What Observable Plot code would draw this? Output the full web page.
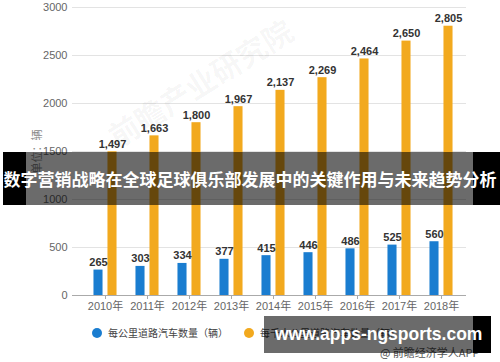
<!DOCTYPE html>
<html><head><meta charset="utf-8">
<script src="https://cdn.jsdelivr.net/npm/d3@7"></script>
<script src="https://cdn.jsdelivr.net/npm/@observablehq/plot@0.6"></script>
<style>
body{margin:0;background:#fff;}
#wrap{position:relative;width:500px;height:362px;overflow:hidden;background:#fff;font-family:"Liberation Sans Narrow","Liberation Sans","Noto Sans CJK SC",sans-serif;}
#chart svg{display:block;}
#legend{position:relative;height:30px;font-family:"Noto Sans CJK SC",sans-serif;font-size:10px;color:#444;}
.lg{position:absolute;top:8px;display:flex;align-items:center;white-space:nowrap;line-height:14px;}
.lg i{display:inline-block;width:10px;height:10px;border-radius:50%;margin-right:6px;}
.abs{position:absolute;}
#bannerText{position:absolute;left:0;width:500px;top:152px;height:53px;line-height:53px;text-align:center;color:#fff;font-weight:bold;font-size:17px;font-family:"Noto Sans CJK SC",sans-serif;white-space:nowrap;}
#wmText{position:absolute;left:275px;top:316px;height:37px;line-height:36px;color:#fff;font-weight:bold;font-size:17.5px;font-family:"Liberation Sans",sans-serif;white-space:nowrap;}
#source{position:absolute;left:380px;top:344px;font-size:11px;color:#555;font-family:"Noto Sans CJK SC",sans-serif;white-space:nowrap;line-height:16px;}
#faint{position:absolute;left:95px;top:60px;font-size:30px;color:rgba(0,0,0,0.045);font-weight:bold;transform:rotate(-32deg);font-family:"Noto Sans CJK SC",sans-serif;white-space:nowrap;}
</style></head><body>
<div id="wrap">
  <div id="chart"></div>
  <div id="legend"></div>
  <div id="faint">前瞻产业研究院</div>
  <div class="abs" style="left:3px;top:152px;width:23px;height:53px;background:#000"></div>
  <div class="abs" style="left:26px;top:152px;width:447px;height:53px;background:rgba(0,0,0,0.58)"></div>
  <div class="abs" style="left:473px;top:152px;width:27px;height:53px;background:#000"></div>
  <div id="bannerText">数字营销战略在全球足球俱乐部发展中的关键作用与未来趋势分析</div>
  <div id="source">@ 前瞻经济学人APP</div>
  <div class="abs" style="left:264px;top:316px;width:209px;height:37px;background:rgba(0,0,0,0.58)"></div>
  <div class="abs" style="left:473px;top:316px;width:18px;height:37px;background:#000"></div>
  <div id="wmText">www.apps-ngsports.com</div>
</div>
<script>
const years = ["2010年","2011年","2012年","2013年","2014年","2015年","2016年","2017年","2018年"];
const carsPerKm = [265, 303, 334, 377, 415, 446, 486, 525, 560];
const carsPerKmPerThousand = [1497, 1663, 1800, 1967, 2137, 2269, 2464, 2650, 2805];
const seriesNames = ["每公里道路汽车数量（辆）", "每千人公里道路汽车数量（辆）"];
const seriesColors = ["#1a7dd0", "#f2a91e"];
const yTicks = [0, 500, 1000, 1500, 2000, 2500, 3000];
const yLabel = "单位：辆";

const blue = years.map((y, i) => ({year: y, value: carsPerKm[i]}));
const orange = years.map((y, i) => ({year: y, value: carsPerKmPerThousand[i]}));

const xRange = [79.5, 466];
const bw = (xRange[1] - xRange[0]) / years.length;
const barW = 10, gap = 4;
const inA = bw / 2 - gap / 2 - barW, inB = bw / 2 + gap / 2;
const off = gap / 2 + barW / 2;

const chart = Plot.plot({
  width: 500, height: 318,
  marginTop: 7, marginBottom: 23, marginLeft: 72, marginRight: 34,
  style: {fontFamily: '"Liberation Sans Narrow","Liberation Sans","Noto Sans CJK SC",sans-serif', background: "transparent"},
  x: {domain: years, range: xRange, padding: 0},
  y: {domain: [0, 3000]},
  marks: [
    Plot.gridY(yTicks, {stroke: "#e3e3e3", strokeOpacity: 1}),
    Plot.axisY(yTicks, {tickSize: 0, tickPadding: 5, tickFormat: d => String(d), fontSize: 11, fill: "#666",
      label: yLabel, labelAnchor: "center", labelArrow: "none", labelOffset: 39}),
    Plot.barY(blue, {x: "year", y: "value", fill: seriesColors[0], insetLeft: inA, insetRight: inB}),
    Plot.barY(orange, {x: "year", y: "value", fill: seriesColors[1], insetLeft: inB, insetRight: inA}),
    Plot.ruleY([0], {stroke: "#aaa"}),
    Plot.axisX({tickSize: 4, tickPadding: 3, stroke: "#aaa", fill: "#666", fontSize: 11, label: null}),
    Plot.text(blue, {x: "year", y: "value", text: d => d3.format(",")(d.value), dx: -off, dy: -4, lineAnchor: "bottom", fontWeight: "bold", fontSize: 11, fill: "#333", fontFamily: '"Liberation Sans",sans-serif'}),
    Plot.text(orange, {x: "year", y: "value", text: d => d3.format(",")(d.value), dx: off, dy: -4, lineAnchor: "bottom", fontWeight: "bold", fontSize: 11, fill: "#333", fontFamily: '"Liberation Sans",sans-serif'})
  ]
});
document.getElementById("chart").appendChild(chart);
const ylab = chart.querySelector('[aria-label="y-axis label"] text');
if (ylab) { ylab.setAttribute("fill", "#888"); ylab.style.fontSize = "11px"; ylab.style.fontFamily = '"Noto Sans CJK SC",sans-serif'; }

const legend = document.getElementById("legend");
const lx = [92, 244];
seriesNames.forEach((n, i) => {
  const d = document.createElement("div");
  d.className = "lg";
  d.style.left = lx[i] + "px";
  d.innerHTML = `<i style="background:${seriesColors[i]}"></i><span>${n}</span>`;
  legend.appendChild(d);
});
</script>
</body></html>
